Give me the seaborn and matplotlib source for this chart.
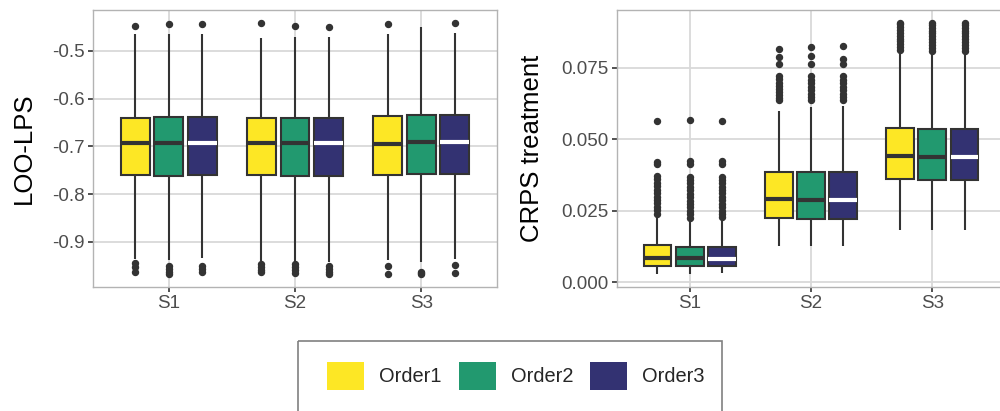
import numpy as np
import pandas as pd
import matplotlib
matplotlib.use("Agg")
import matplotlib.pyplot as plt
from matplotlib.patches import Patch, Rectangle
import seaborn as sns

scenarios = ["S1", "S2", "S3"]
orders = ["Order1", "Order2", "Order3"]
colors = ["#FDE725", "#22996F", "#333272"]

# box summaries, [scenario][order]
loo_q1 = [[-0.759, -0.762, -0.760], [-0.760, -0.762, -0.762], [-0.760, -0.758, -0.758]]
loo_median = [[-0.694, -0.692, -0.694], [-0.693, -0.693, -0.694], [-0.695, -0.690, -0.690]]
loo_q3 = [[-0.641, -0.639, -0.639], [-0.640, -0.640, -0.640], [-0.637, -0.634, -0.634]]
loo_lo = [[-0.935, -0.937, -0.934], [-0.939, -0.941, -0.941], [-0.937, -0.943, -0.936]]
loo_hi = [[-0.465, -0.465, -0.465], [-0.474, -0.472, -0.471], [-0.464, -0.451, -0.462]]
loo_out = [
    [[-0.449, -0.944, -0.953, -0.962],
     [-0.445, -0.950, -0.956, -0.962, -0.967],
     [-0.445, -0.951, -0.957, -0.963]],
    [[-0.442, -0.946, -0.952, -0.958, -0.964],
     [-0.449, -0.947, -0.952, -0.958, -0.965],
     [-0.450, -0.951, -0.957, -0.962, -0.967]],
    [[-0.444, -0.951, -0.968],
     [-0.962, -0.965, -0.968],
     [-0.441, -0.949, -0.965]],
]

crps_q1 = [[0.0059, 0.0059, 0.0059], [0.0225, 0.0223, 0.0223], [0.0362, 0.0357, 0.0357]]
crps_median = [[0.0086, 0.0084, 0.0082], [0.0291, 0.0289, 0.0289], [0.0442, 0.0440, 0.0440]]
crps_q3 = [[0.0130, 0.0124, 0.0124], [0.0387, 0.0385, 0.0385], [0.0541, 0.0535, 0.0535]]
crps_lo = [[0.0028, 0.0028, 0.0034], [0.0126, 0.0126, 0.0126], [0.0184, 0.0184, 0.0184]]
crps_hi = [[0.0234, 0.0220, 0.0220], [0.0598, 0.0614, 0.0616], [0.0805, 0.0800, 0.0800]]
crps_out = [
    [[0.0240, 0.0252, 0.0264, 0.0276, 0.0288, 0.0300, 0.0312, 0.0324, 0.0336, 0.0348, 0.0360, 0.0372, 0.0415, 0.0420, 0.0565],
     [0.0226, 0.0238, 0.0250, 0.0262, 0.0274, 0.0286, 0.0298, 0.0310, 0.0322, 0.0334, 0.0346, 0.0358, 0.0368, 0.0415, 0.0425, 0.0566],
     [0.0227, 0.0239, 0.0251, 0.0263, 0.0275, 0.0287, 0.0299, 0.0311, 0.0323, 0.0335, 0.0347, 0.0359, 0.0368, 0.0415, 0.0424, 0.0564]],
    [[0.0636, 0.0646, 0.0656, 0.0666, 0.0676, 0.0686, 0.0698, 0.0710, 0.0722, 0.0762, 0.0788, 0.0817],
     [0.0636, 0.0648, 0.0660, 0.0672, 0.0684, 0.0696, 0.0708, 0.0720, 0.0762, 0.0790, 0.0822],
     [0.0636, 0.0648, 0.0660, 0.0672, 0.0684, 0.0696, 0.0708, 0.0720, 0.0765, 0.0780, 0.0825]],
    [[0.0812, 0.0822, 0.0832, 0.0842, 0.0852, 0.0862, 0.0872, 0.0882, 0.0892, 0.0902, 0.0908],
     [0.0810, 0.0820, 0.0830, 0.0840, 0.0850, 0.0860, 0.0870, 0.0880, 0.0890, 0.0900, 0.0905],
     [0.0810, 0.0820, 0.0830, 0.0840, 0.0850, 0.0860, 0.0870, 0.0880, 0.0890, 0.0900, 0.0905]],
]


def build_frame(q1, med, q3, lo, hi, out, k=40):
    # rebuild a sample whose quartiles / whiskers / outliers match the summary
    rows = []
    for i, s in enumerate(scenarios):
        for j, o in enumerate(orders):
            vals = [lo[i][j]] + [q1[i][j]] * k + [med[i][j]] * k + [q3[i][j]] * k + [hi[i][j]] + out[i][j]
            rows += [(s, o, v) for v in vals]
    return pd.DataFrame(rows, columns=["scenario", "order", "value"])


loo = build_frame(loo_q1, loo_median, loo_q3, loo_lo, loo_hi, loo_out)
crps = build_frame(crps_q1, crps_median, crps_q3, crps_lo, crps_hi, crps_out)

sns.set_style("white")
plt.rcParams["font.family"] = ["Liberation Sans", "DejaVu Sans"]
plt.rcParams["axes.unicode_minus"] = False

fig = plt.figure(figsize=(10, 4.11), dpi=100)
ax1 = fig.add_axes([0.093, 0.3017, 0.404, 0.674])
ax2 = fig.add_axes([0.617, 0.3017, 0.388, 0.674])

for ax, df, ylab, lx in [(ax1, loo, "LOO-LPS", -0.172), (ax2, crps, "CRPS treatment", -0.22)]:
    sns.boxplot(data=df, x="scenario", y="value", hue="order", order=scenarios, hue_order=orders,
                palette=colors, saturation=1, width=0.8, gap=0.14, linecolor="#333333",
                linewidth=1.5, showcaps=False, legend=False, ax=ax,
                medianprops={"linewidth": 3.0},
                flierprops={"marker": "o", "markersize": 4.3, "markerfacecolor": "#333333",
                            "markeredgecolor": "#333333"})
    # white median for the dark third order
    for line in ax.containers[2].medians:
        line.set_color("white")
    ax.set_xlim(-0.6, 2.6)
    rng = df["value"].max() - df["value"].min()
    ax.set_ylim(df["value"].min() - 0.05 * rng, df["value"].max() + 0.05 * rng)
    ax.grid(True, color="#D9D9D9", lw=1.3)
    ax.set_axisbelow(True)
    for sp in ax.spines.values():
        sp.set_color("#B3B3B3")
        sp.set_linewidth(1.0)
    ax.tick_params(bottom=True, left=True, length=3.8, width=1.2, color="#333333",
                   labelcolor="#4D4D4D", labelsize=13.5, pad=2)
    ax.set_xlabel("")
    ax.set_ylabel(ylab, fontsize=18.5, color="black", va="center")
    ax.yaxis.set_label_coords(lx, 0.5)

ax1.set_yticks([-0.5, -0.6, -0.7, -0.8, -0.9])
ax1.set_yticklabels(["-0.5", "-0.6", "-0.7", "-0.8", "-0.9"])
ax2.set_yticks([0.0, 0.025, 0.05, 0.075])
ax2.set_yticklabels(["0.000", "0.025", "0.050", "0.075"])

handles = [Patch(facecolor=c, edgecolor="none") for c in colors]
fig.legend(handles, orders, loc="center", bbox_to_anchor=(0.516, 1 - 376 / 411), ncol=3,
           frameon=False, fontsize=14.4, handlelength=1.85, handleheight=1.85,
           handletextpad=0.75, columnspacing=0.85)
fig.patches.append(Rectangle((0.298, 1 - 341 / 411), 0.424, -0.2, transform=fig.transFigure,
                             fill=False, edgecolor="#808080", lw=1.2))

fig.savefig("out.png", dpi=100)
